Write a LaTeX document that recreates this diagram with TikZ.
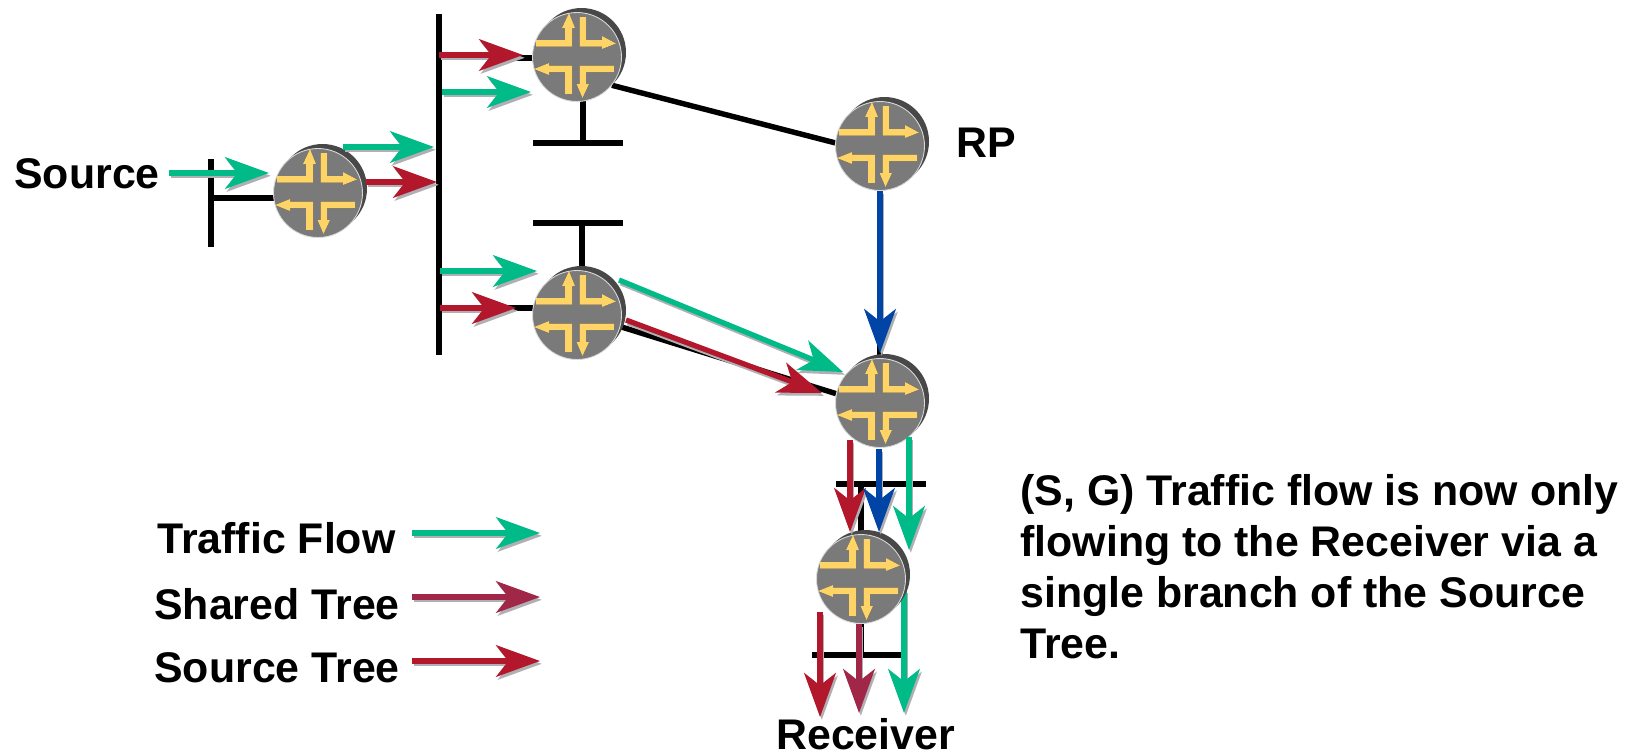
\documentclass[tikz,border=0pt]{standalone}
\usepackage{fontspec}
\setmainfont{Liberation Sans}
\usetikzlibrary{arrows.meta,backgrounds}
\definecolor{flowgreen}{HTML}{00BB88}
\definecolor{srcred}{HTML}{B3172B}
\definecolor{sharedpurple}{HTML}{A12748}
\definecolor{rpblue}{HTML}{0045A5}
\definecolor{glyphyellow}{HTML}{FFD467}
\definecolor{routergrey}{HTML}{7A7A7A}
\definecolor{routerback}{HTML}{484848}
\definecolor{arrowshade}{HTML}{B0B0B4}
\newcommand{\glyphpaths}{
(-41,-17) -- (-12,-17) -- (-12,-29) -- (-15,-29) -- (-8,-44) -- (-2,-29) -- (-5,-29) -- (-5,-10.5) -- (-41,-10.5) -- cycle
(2.5,-40) -- (9,-40) -- (9,-17) -- (25,-17) -- (25,-21) -- (39,-13.5) -- (25,-8) -- (25,-10.5) -- (2.5,-10.5) -- cycle
(37,8.5) -- (37,15) -- (9,15) -- (9,27) -- (12,27) -- (5.5,41) -- (-0.5,27) -- (2.5,27) -- (2.5,8.5) -- cycle
(-43,12) -- (-28,6) -- (-28,8.5) -- (-5,8.5) -- (-5,37) -- (-12,37) -- (-12,15) -- (-28,15) -- (-28,18) -- cycle}
\newcommand{\routerglyph}{
\begin{scope}[shift={(path picture bounding box.center)}]
\fill [black!80, shift={(-1,1)}] \glyphpaths;
\fill [glyphyellow] \glyphpaths;
\end{scope}}
\newcommand{\flowline}[3]{
\draw [flow=arrowshade] ([shift={(1.8,2.8)}]#2) -- ([shift={(1.8,2.8)}]#3);
\draw [flow=#1] (#2) -- (#3);}
\tikzset{
router/.style={circle, inner sep=0pt, minimum size=1.78cm, fill=routergrey, draw=black!15, line width=0.5pt,
  preaction={fill=routerback, draw=none, transform canvas={shift={(4.5,-4.5)}}},
  path picture={\routerglyph}},
wire/.style={line width=3.1pt, black},
flow/.style={line width=3pt, draw=#1, -{Stealth[length=25pt,width=18pt,inset=7pt,fill=#1]}},
lbl/.style={inner sep=0pt, anchor=base west, font=\fontsize{24.4pt}{29pt}\selectfont\bfseries}
}
\begin{document}
\begin{tikzpicture}[x=0.02cm,y=-0.02cm]
\useasboundingbox (0,0) rectangle (1628,755);
\node [router] (srcrtr) at (318,193) {};
\node [router] (toprtr) at (577,57) {};
\node [router] (rprtr) at (880,146) {};
\node [router] (midrtr) at (577,315) {};
\node [router] (joinrtr) at (880,403) {};
\node [router] (lastrtr) at (861,579) {};
\node [lbl] (srclbl) at (14,188) {Source};
\node [lbl] (rplbl) at (956,157) {RP};
\node [lbl] (traffic) at (157,553) {Traffic Flow};
\node [lbl] (shared) at (154,619) {Shared Tree};
\node [lbl] (srctree) at (154,682) {Source Tree};
\node [lbl] (rcvr) at (776,749) {Receiver};
\node [lbl, anchor=north west, align=left] (note) at (1020,474)
  {(S, G) Traffic flow is now only\\flowing to the Receiver via a\\single branch of the Source\\Tree.};
% bars and buses
\coordinate (srcbarT) at (211,159);
\coordinate (srcbarB) at (211,247);
\coordinate (srcbarM) at (211,198);
\coordinate (busT) at (439,14);
\coordinate (busB) at (439,355);
\coordinate (busA) at (505,58);
\coordinate (busC) at (500,308);
\coordinate (topL) at (533,143);
\coordinate (topR) at (623,143);
\coordinate (topM) at (583,143);
\coordinate (midL) at (533,223);
\coordinate (midR) at (623,223);
\coordinate (midM) at (582,223);
\coordinate (joinL) at (836,484);
\coordinate (joinR) at (926,484);
\coordinate (joinM) at (861,484);
\coordinate (lastL) at (812,655);
\coordinate (lastR) at (902,655);
\coordinate (lastM) at (861,655);
\coordinate (lastGs) at (904,590);
\coordinate (lastGe) at (904,713);
\begin{pgfonlayer}{background}
\draw [wire] (srcbarT) -- (srcbarB);
\draw [wire] (srcbarM) -- (srcbarM -| srcrtr);
\draw [wire] (busT) -- (busB);
\draw [wire] (busA) -- (busA -| toprtr);
\draw [wire] (busC) -- (busC -| midrtr);
\draw [wire] (topL) -- (topR);
\draw [wire] (topM) -- (topM |- toprtr);
\draw [wire] (midL) -- (midR);
\draw [wire] (midM) -- (midM |- midrtr);
\draw [wire] (toprtr.-39) -- (rprtr.176);
\draw [wire] (midrtr.-15) -- (joinrtr.168);
\draw [wire] (rprtr) -- (joinrtr);
\draw [wire] (joinL) -- (joinR);
\draw [wire] (joinM) -- (lastrtr);
\draw [wire] (lastL) -- (lastR);
\draw [wire] (lastM) -- (lastrtr);
\flowline{flowgreen}{lastGs}{lastGe}
\end{pgfonlayer}
% arrow ends
\coordinate (srcS) at (169,173);
\coordinate (srcE) at (269,173);
\coordinate (grnAs) at (343,147);
\coordinate (grnAe) at (434,147);
\coordinate (redAs) at (366,182);
\coordinate (redAe) at (437,182);
\coordinate (redBs) at (439,55);
\coordinate (redBe) at (523,55);
\coordinate (grnBs) at (442,92);
\coordinate (grnBe) at (531,92);
\coordinate (grnCs) at (440,271);
\coordinate (grnCe) at (537,271);
\coordinate (redCs) at (440,308);
\coordinate (redCe) at (516,308);
\coordinate (grnDs) at (619,280);
\coordinate (grnDe) at (843,372);
\coordinate (redDs) at (626,320);
\coordinate (redDe) at (822,393);
\coordinate (bluAs) at (880,191);
\coordinate (bluAe) at (880,353);
\coordinate (redEs) at (850,440);
\coordinate (redEe) at (850,532);
\coordinate (bluBs) at (879,449);
\coordinate (bluBe) at (879,532);
\coordinate (grnEs) at (909,437);
\coordinate (grnEe) at (909,550);
\coordinate (redFs) at (820,612);
\coordinate (redFe) at (820,717);
\coordinate (purFs) at (859,624);
\coordinate (purFe) at (859,713);
\coordinate (keyAs) at (412,533);
\coordinate (keyAe) at (540,533);
\coordinate (keyBs) at (412,597);
\coordinate (keyBe) at (540,597);
\coordinate (keyCs) at (412,661);
\coordinate (keyCe) at (540,661);
\flowline{flowgreen}{srcS}{srcE}
\flowline{flowgreen}{grnAs}{grnAe}
\flowline{srcred}{redAs}{redAe}
\flowline{srcred}{redBs}{redBe}
\flowline{flowgreen}{grnBs}{grnBe}
\flowline{flowgreen}{grnCs}{grnCe}
\flowline{srcred}{redCs}{redCe}
\flowline{flowgreen}{grnDs}{grnDe}
\flowline{srcred}{redDs}{redDe}
\flowline{rpblue}{bluAs}{bluAe}
\flowline{srcred}{redEs}{redEe}
\flowline{rpblue}{bluBs}{bluBe}
\flowline{flowgreen}{grnEs}{grnEe}
\flowline{srcred}{redFs}{redFe}
\flowline{sharedpurple}{purFs}{purFe}
% key
\flowline{flowgreen}{keyAs}{keyAe}
\flowline{sharedpurple}{keyBs}{keyBe}
\flowline{srcred}{keyCs}{keyCe}
\end{tikzpicture}
\end{document}
